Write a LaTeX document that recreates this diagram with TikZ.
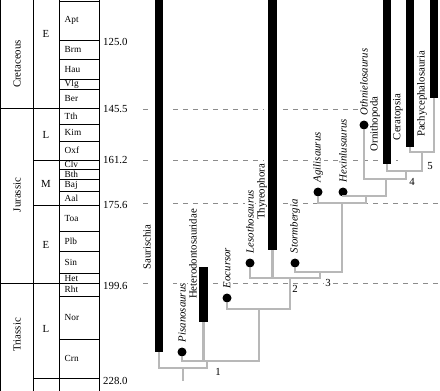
\documentclass[tikz,border=0pt]{standalone}
\usepackage{fontspec}
\setmainfont{Liberation Serif}
\usetikzlibrary{positioning}

\tikzset{
  branch/.style={line width=2.6pt, black!28},
  rangebar/.style={line width=8.5pt},
  rangegap/.style={line width=17pt, white},
  tip/.style={circle, fill=black, inner sep=0pt, minimum size=9pt},
  taxon/.style={rotate=90, anchor=west, fill=white, inner sep=1pt,
    font=\fontsize{10.8}{12}\selectfont\itshape},
  clade/.style={rotate=90, fill=white, inner sep=1pt,
    font=\fontsize{10.8}{12}\selectfont},
  period/.style={rotate=90, font=\fontsize{10.8}{12}\selectfont},
  epoch/.style={font=\fontsize{10.8}{12}\selectfont},
  stage/.style={anchor=west, inner sep=0pt, font=\fontsize{9.3}{10}\selectfont},
  age/.style={anchor=west, inner sep=0pt, font=\fontsize{10.8}{12}\selectfont},
  num/.style={fill=white, inner sep=1pt, font=\fontsize{10.8}{12}\selectfont},
  isoline/.style={black!45, line width=0.9pt, dash pattern=on 5pt off 5pt},
}

\begin{document}
\begin{tikzpicture}[x=1pt, y=-1pt]
    \useasboundingbox (0,0) rectangle (440,391);

    % Time scale columns
    \draw[line width=0.9pt] (0.5,0) -- (0.5,391);
    \draw[line width=0.9pt] (33,0) -- (33,391);
    \draw[line width=0.9pt] (59,0) -- (59,391);
    \draw[line width=0.9pt] (99,0) -- (99,391);
    \draw[line width=0.9pt] (59,1) -- (99,1);

    % Period and epoch boundaries
    \draw[line width=0.9pt] (0,108) -- (59,108);
    \draw[line width=0.9pt] (0,283) -- (59,283);
    \draw[line width=0.9pt] (33,160) -- (59,160);
    \draw[line width=0.9pt] (33,205) -- (59,205);
    \draw[line width=0.9pt] (33,378) -- (59,378);

    \node[period] (cret) at (17,64) {Cretaceous};
    \node[period] (jur) at (17,195) {Jurassic};
    \node[period] (tri) at (17,335) {Triassic};

    \node[epoch] (ek) at (46,34) {E};
    \node[epoch] (lj) at (46,135) {L};
    \node[epoch] (mj) at (46,184) {M};
    \node[epoch] (ej) at (46,245) {E};
    \node[epoch] (lt) at (46,329) {L};

    % Stages
    \foreach \top/\bot/\name in {1/40/Apt, 40/59/Brm, 59/79/Hau, 79/89/Vlg,
        89/108/Ber, 108/124/Tth, 124/141/Kim, 141/160/Oxf, 160/169/Clv,
        169/179/Bth, 179/191/Baj, 191/205/Aal, 205/231/Toa, 231/251/Plb,
        251/273/Sin, 273/283/Het, 283/296/Rht, 296/339/Nor, 339/378/Crn}
    {
        \draw[line width=0.9pt] (59,\bot) -- (99,\bot);
        \node[stage] (st-\name) at (64.5,{(\top+\bot)/2}) {\name};
    }

    % Ages (Ma)
    \node[age] (a125) at (103,42) {125.0};
    \node[age] (a145) at (103,109) {145.5};
    \node[age] (a161) at (103,160) {161.2};
    \node[age] (a175) at (103,205) {175.6};
    \node[age] (a199) at (103,286) {199.6};
    \node[age] (a228) at (103,381) {228.0};

    % Dashed lines at the boundaries
    \draw[isoline] (143,109) -- (358,109);
    \draw[isoline] (143,160) -- (402,160);
    \draw[isoline] (143,203.5) -- (440,203.5);
    \draw[isoline] (143,283) -- (440,283);

    % Ranges
    \coordinate (sau-top) at (159,-5);    \coordinate (sau) at (159,352);
    \coordinate (het-top) at (203.5,267); \coordinate (het) at (203.5,322);
    \coordinate (thy-top) at (272.5,-5);  \coordinate (thy) at (272.5,250);
    \coordinate (orp-top) at (387,-5);    \coordinate (orp) at (387,164);
    \coordinate (cer-top) at (410,-5);    \coordinate (cer) at (410,147);
    \coordinate (pac-top) at (434,-5);    \coordinate (pac) at (434,98);

    \foreach \t in {sau,het,thy,orp,cer,pac}
        \draw[rangegap] (\t-top) -- (\t);

    % Clade names
    \node[clade] (sau-l) at (147,247) {Saurischia};
    \node[clade] (het-l) at (193,254) {Heterodontosauridae};
    \node[clade] (thy-l) at (262,192) {Thyreophora};
    \node[clade] (orp-l) at (375,124) {Ornithopoda};
    \node[clade] (cer-l) at (398,117) {Ceratopsia};
    \node[clade] (pac-l) at (422,94) {Pachycephalosauria};

    \foreach \t in {sau,het,thy,orp,cer,pac}
        \draw[rangebar] (\t-top) -- (\t);

    % Single taxa
    \node[tip] (pis) at (182,352) {};
    \node[tip] (eoc) at (227,298) {};
    \node[tip] (les) at (250,263) {};
    \node[tip] (sto) at (295,263) {};
    \node[tip] (agi) at (318,192) {};
    \node[tip] (hex) at (343,192) {};
    \node[tip] (oth) at (364,125) {};

    \node[taxon] (pis-l) at ([yshift=4pt]pis.north) {Pisanosaurus};
    \node[taxon] (eoc-l) at ([yshift=4pt]eoc.north) {Eocursor};
    \node[taxon] (les-l) at ([yshift=4pt]les.north) {Lesothosaurus};
    \node[taxon] (sto-l) at ([yshift=4pt]sto.north) {Stormbergia};
    \node[taxon] (agi-l) at ([yshift=4pt]agi.north) {Agilisaurus};
    \node[taxon] (hex-l) at ([yshift=4pt]hex.north) {Hexinlusaurus};
    \node[taxon] (oth-l) at ([yshift=4pt]oth.north) {Othnielosaurus};

    % Nodes of the tree
    \coordinate (base) at (183,381);
    \coordinate (n1) at (183,368);
    \coordinate (orn) at (207,361);
    \coordinate (nE) at (259,309);
    \coordinate (n2) at (290,278);
    \coordinate (n3) at (320,272);
    \coordinate (nB) at (342,203);
    \coordinate (nA) at (366,196);
    \coordinate (n4) at (386,179);
    \coordinate (nC) at (406,171);
    \coordinate (n5) at (422,152);

    % Branches
    \draw[branch] (n1) -- (base);
    \draw[branch] (sau) |- (n1);
    \draw[branch] (orn) |- (n1);
    \draw[branch] (pis) |- (orn);
    \draw[branch] (het) |- (orn);
    \draw[branch] (nE) |- (orn);
    \draw[branch] (eoc) |- (nE);
    \draw[branch] (n2) |- (nE);
    \draw[branch] (les) |- (n2);
    \draw[branch] (thy) |- (n2);
    \draw[branch] (n3) |- (n2);
    \draw[branch] (sto) |- (n3);
    \draw[branch] (nB) |- (n3);
    \draw[branch] (agi) |- (nB);
    \draw[branch] (nA) |- (nB);
    \draw[branch] (hex) |- (nA);
    \draw[branch] (n4) |- (nA);
    \draw[branch] (oth) |- (n4);
    \draw[branch] (nC) |- (n4);
    \draw[branch] (orp) |- (nC);
    \draw[branch] (n5) |- (nC);
    \draw[branch] (cer) |- (n5);
    \draw[branch] (pac) |- (n5);

    % Node numbers
    \node[num] (l1) at (218,372) {1};
    \node[num] (l2) at (295,289) {2};
    \node[num] (l3) at (328,283) {3};
    \node[num] (l4) at (412,182) {4};
    \node[num] (l5) at (430,166) {5};
\end{tikzpicture}
\end{document}
